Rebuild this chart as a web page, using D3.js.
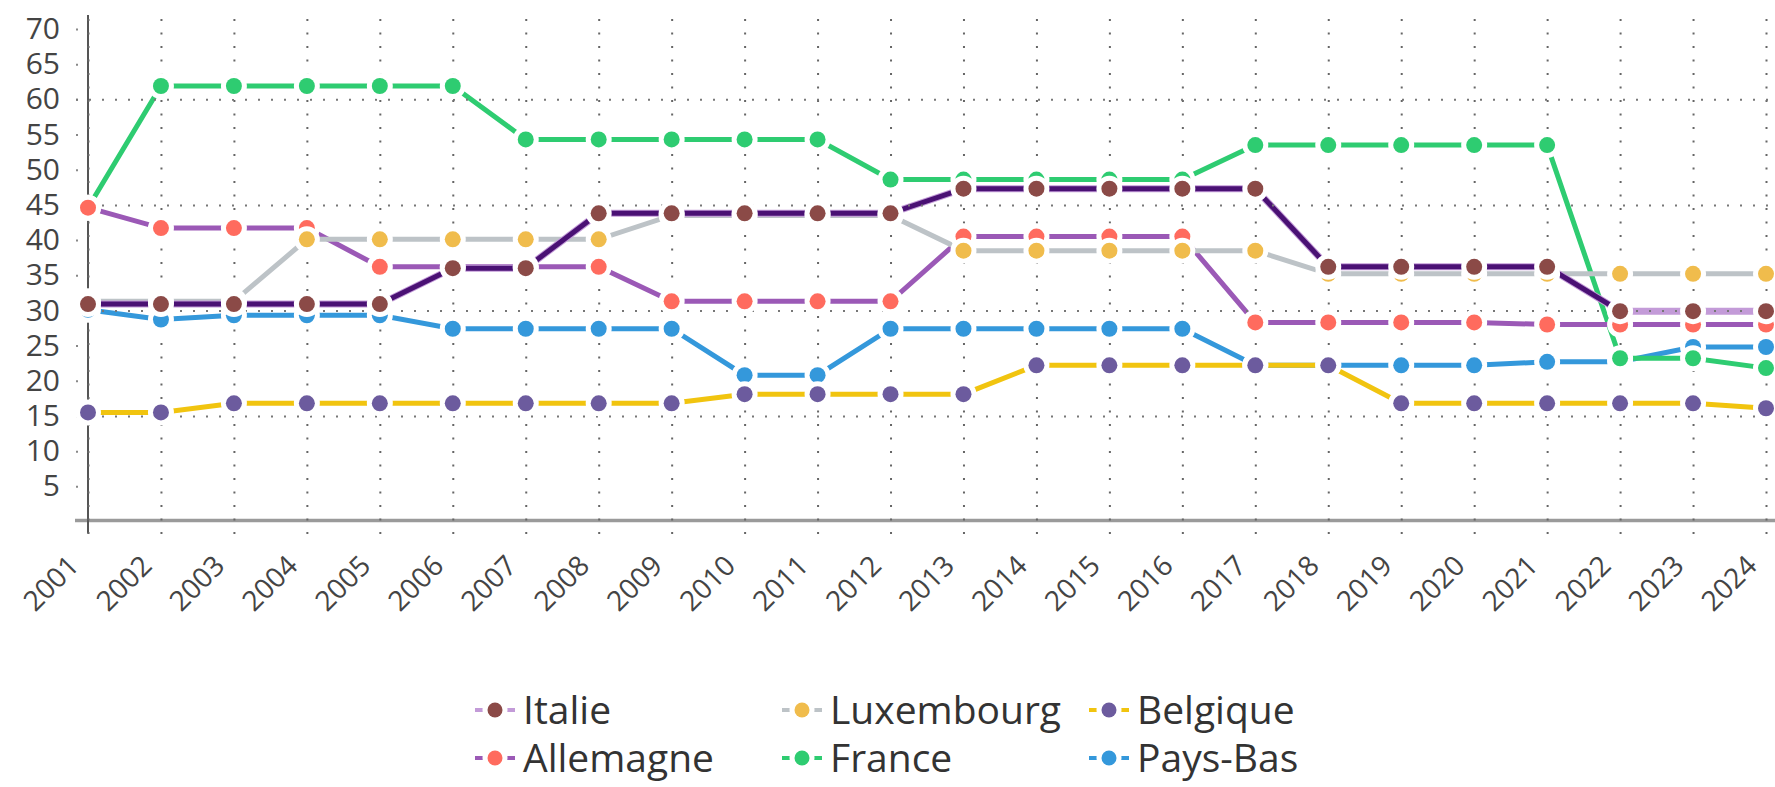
<!DOCTYPE html>
<html>
<head>
<meta charset="utf-8">
<script src="https://cdn.jsdelivr.net/npm/d3@7"></script>
<style>
body { margin: 0; background: #fff; }
text { font-family: "Open Sans", sans-serif; }
</style>
</head>
<body>
<div id="chart"></div>
<script>
// the data
const years = ["2001", "2002", "2003", "2004", "2005", "2006", "2007", "2008", "2009", "2010", "2011", "2012",
    "2013", "2014", "2015", "2016", "2017", "2018", "2019", "2020", "2021", "2022", "2023", "2024"];
const yTicks = [5, 10, 15, 20, 25, 30, 35, 40, 45, 50, 55, 60, 65, 70];
const gridValues = [15, 30, 45, 60];
const italie = [30.9, 30.9, 30.9, 30.9, 30.9, 36.0, 36.0, 43.8, 43.8, 43.8, 43.8, 43.8,
    47.3, 47.3, 47.3, 47.3, 47.3, 36.2, 36.2, 36.2, 36.2, 29.9, 29.9, 29.9];
const allemagne = [44.6, 41.7, 41.7, 41.7, 36.2, 36.2, 36.2, 36.2, 31.3, 31.3, 31.3, 31.3,
    40.5, 40.5, 40.5, 40.5, 28.3, 28.3, 28.3, 28.3, 28.0, 28.0, 28.0, 28.0];
const luxembourg = [31.3, 31.3, 31.3, 40.1, 40.1, 40.1, 40.1, 40.1, 43.5, 43.5, 43.5, 43.5,
    38.5, 38.5, 38.5, 38.5, 38.5, 35.2, 35.2, 35.2, 35.2, 35.2, 35.2, 35.2];
const belgique = [15.5, 15.5, 16.8, 16.8, 16.8, 16.8, 16.8, 16.8, 16.8, 18.1, 18.1, 18.1,
    18.1, 22.2, 22.2, 22.2, 22.2, 22.2, 16.8, 16.8, 16.8, 16.8, 16.8, 16.1];
const france = [44.6, 61.9, 61.9, 61.9, 61.9, 61.9, 54.3, 54.3, 54.3, 54.3, 54.3, 48.6,
    48.6, 48.6, 48.6, 48.6, 53.5, 53.5, 53.5, 53.5, 53.5, 23.2, 23.2, 21.8];
const paysBas = [30.1, 28.7, 29.3, 29.3, 29.3, 27.4, 27.4, 27.4, 27.4, 20.8, 20.8, 27.4,
    27.4, 27.4, 27.4, 27.4, 22.2, 22.2, 22.2, 22.2, 22.7, 22.7, 24.8, 24.8];
// the italie line is drawn dark up to this year
const italieDarkUntil = "2022";

// series in drawing order (first one ends up at the bottom)
const series = [
    { name: "Pays-Bas", values: paysBas, line: "#3498db", dot: "#3498db" },
    { name: "France", values: france, line: "#2ecc71", dot: "#2ecc71" },
    { name: "Allemagne", values: allemagne, line: "#9b59b6", dot: "#ff6b5e" },
    { name: "Belgique", values: belgique, line: "#f1c40f", dot: "#6c5b9e" },
    { name: "Luxembourg", values: luxembourg, line: "#bdc3c7", dot: "#f0bc4c" },
    { name: "Italie", values: italie, line: "#c39bd8", dot: "#8b4a47" }
];
const legendOrder = ["Italie", "Luxembourg", "Belgique", "Allemagne", "France", "Pays-Bas"];

const width = 1775, height = 787;
const svg = d3.select("#chart").append("svg").attr("width", width).attr("height", height);

// scales
const xScale = d3.scalePoint().domain(years).range([88, 1766]);
const yScale = d3.scaleLinear().domain([0, 70]).range([521.5, 29]);

// x axis line
svg.append("line").attr("x1", 75).attr("x2", width)
    .attr("y1", yScale(0) - 1).attr("y2", yScale(0) - 1)
    .attr("stroke", "#9a9a9a").attr("stroke-width", 3.5);
// y axis line
svg.append("line").attr("x1", xScale(years[0])).attr("x2", xScale(years[0]))
    .attr("y1", yScale(70) - 14).attr("y2", yScale(0) + 12)
    .attr("stroke", "#555").attr("stroke-width", 2);

// y axis ticks and labels
const yAxis = svg.append("g").attr("transform", "translate(78,0)")
    .call(d3.axisLeft(yScale).tickValues(yTicks).tickSize(2).tickPadding(16));
yAxis.select(".domain").remove();
yAxis.selectAll("line").attr("stroke", "#888").attr("stroke-width", 2);
yAxis.selectAll("text").style("font-size", "30px").attr("fill", "#444")
    .style("font-family", "'Open Sans', sans-serif");

// x axis labels
const xAxis = svg.append("g").attr("transform", "translate(0," + yScale(0) + ")")
    .call(d3.axisBottom(xScale).tickSize(0));
xAxis.select(".domain").remove();
xAxis.selectAll("text").style("font-size", "28px").attr("fill", "#444")
    .style("font-family", "'Open Sans', sans-serif")
    .style("text-anchor", "end")
    .attr("x", 0).attr("y", 0).attr("dy", 0)
    .attr("transform", "translate(-8,46) rotate(-45)");

// the lines
const lineGen = (vals) => d3.line()
    .x((d, i) => xScale(years[i]))
    .y(d => yScale(d))(vals);
series.forEach(s => {
    svg.append("path").attr("fill", "none").attr("stroke", s.line)
        .attr("stroke-width", s.name === "Italie" ? 7 : 5)
        .attr("d", lineGen(s.values));
    if (s.name === "Italie") {
        const stop = years.indexOf(italieDarkUntil);
        svg.append("path").attr("fill", "none").attr("stroke", "#4a1174")
            .attr("stroke-width", 5)
            .attr("d", d3.line()
                .defined((d, i) => i <= stop)
                .x((d, i) => xScale(years[i]))
                .y(d => yScale(d))(s.values));
    }
});

// dotted grid lines (drawn over the lines)
const xGrid = svg.append("g").attr("transform", "translate(0,534)")
    .call(d3.axisBottom(xScale).tickSize(-(534 - 15)).tickFormat(() => ""));
xGrid.select(".domain").remove();
xGrid.selectAll("line").attr("stroke", "#666").attr("stroke-width", 2)
    .attr("stroke-dasharray", "2,11.5");
const yGrid = svg.append("g").attr("transform", "translate(76,0)")
    .call(d3.axisLeft(yScale).tickValues(gridValues).tickSize(-(width - 76)).tickFormat(() => ""));
yGrid.select(".domain").remove();
yGrid.selectAll("line").attr("stroke", "#777").attr("stroke-width", 2)
    .attr("stroke-dasharray", "2,11");

// the markers
series.forEach(s => {
    svg.append("g").selectAll("circle").data(s.values).join("circle")
        .attr("cx", (d, i) => xScale(years[i]))
        .attr("cy", d => yScale(d))
        .attr("r", 8).attr("fill", s.dot)
        .attr("stroke", "#fff").attr("stroke-width", 10)
        .style("paint-order", "stroke");
});

// legend
const legend = svg.append("g");
legendOrder.forEach((name, i) => {
    const s = series.find(d => d.name === name);
    const col = i % 3, row = Math.floor(i / 3);
    const cx = 495 + col * 307, cy = 710 + row * 48;
    const item = legend.append("g").attr("transform", "translate(" + cx + "," + cy + ")");
    item.append("line").attr("x1", -20).attr("x2", 20).attr("y1", 0).attr("y2", 0)
        .attr("stroke", s.line).attr("stroke-width", 4);
    item.append("circle").attr("r", 7.5).attr("fill", s.dot)
        .attr("stroke", "#fff").attr("stroke-width", 10).style("paint-order", "stroke");
    item.append("text").attr("x", 28).attr("y", 0).attr("dy", "0.35em")
        .style("font-size", "39px").attr("fill", "#333").text(name);
});
</script>
</body>
</html>
